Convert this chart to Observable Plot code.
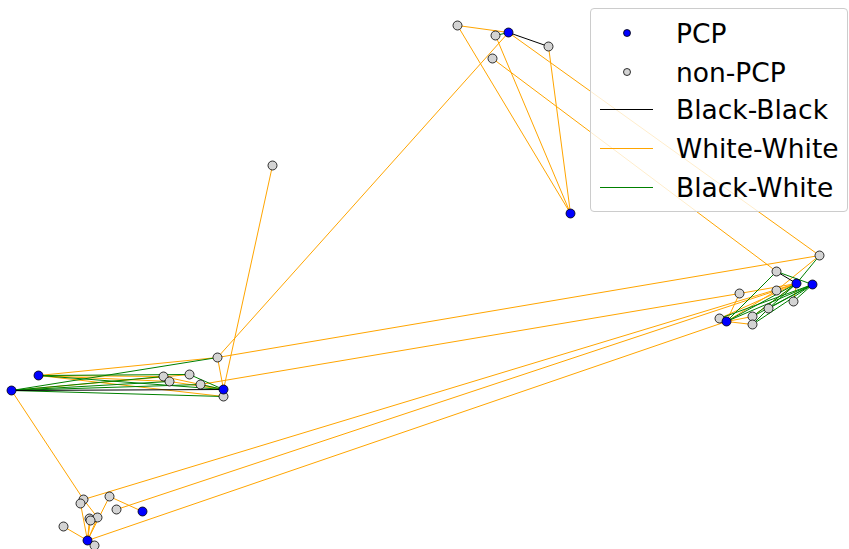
<!DOCTYPE html>
<html>
<head>
<meta charset="utf-8">
<script src="https://cdn.jsdelivr.net/npm/d3@7"></script>
<script src="https://cdn.jsdelivr.net/npm/@observablehq/plot@0.6"></script>
<style>
  html, body { margin: 0; padding: 0; background: #fff; }
  #wrap { position: relative; width: 849px; height: 549px; }
  #legend {
    position: absolute; left: 590px; top: 8px; width: 256px; height: 202px;
    background: rgba(255,255,255,0.8); border: 1.5px solid #cccccc; border-radius: 4px;
    font-family: "DejaVu Sans", sans-serif; font-size: 26px; color: #000;
  }
  #legend svg { position: absolute; left: 0; top: 0; }
</style>
</head>
<body>
<div id="wrap"></div>
<script>
// ---- node layout (layout units) ----
const nodeIds = ["L1","L2","L3","L4","L5","L6","L7","L8","L9","L10",
                 "T1","T2","T3","T4","T5","T6",
                 "R1","R2","R3","R4","R5","R6","R7","R8","R9","R10","R11","R12",
                 "B1","B2","B3","B4","B5","B6","B7","B8","B9","B10","B11"];
const nodeX = [11,38,217,163,169,189,200,223,223,272,
               457,508,495,548,492,570,
               819,776,796,812,739,776,793,768,719,726,752,752,
               83,80,109,116,142,89,97,90,63,87,94];
const nodeY = [390,375,357,376,381,374,384,389,396,165,
               25,32,35,46,58,213,
               255,271,283,284,293,290,301,308,318,321,316,324,
               499,503,496,509,511,518,517,520,526,540,545];
const nodePCP = ["L1","L2","L8","T2","T6","R3","R4","R10","B5","B10"];

// ---- edges by type ----
const blackBlack = [["T2","T4"],["R2","R3"],["L1","L8"]];
const whiteWhite = [["L1","B1"],["L2","L3"],["L2","L4"],["L2","L5"],["L2","L9"],["L1","L6"],
  ["L3","L8"],["L4","L8"],["L5","L8"],["L8","L10"],["L3","T2"],["L3","R1"],["L7","R5"],
  ["T1","T2"],["T1","T6"],["T3","T6"],["T4","T6"],["T2","R1"],["T5","R2"],
  ["B1","R3"],["B4","R6"],["B10","R10"],["B1","B7"],["B2","B10"],["B3","B5"],["B3","B10"],
  ["B9","B10"],["B6","B10"],["B7","B10"],["B8","B10"],
  ["R1","R6"],["R5","R10"],["R5","R3"],["R6","R3"],["R6","R10"],["R7","R3"],
  ["R10","R11"],["R10","R12"],["R9","R3"],["R11","R3"]];
const blackWhite = [["L1","L3"],["L1","L4"],["L1","L5"],["L1","L7"],["L1","L9"],["L2","L8"],
  ["L2","L6"],["L6","L8"],["L7","L8"],["T2","T3"],
  ["R1","R3"],["R2","R4"],["R2","R10"],["R3","R10"],["R4","R10"],["R4","R9"],["R3","R8"],
  ["R4","R11"],["R4","R12"],["R4","R7"],["R8","R12"],["R4","R8"],["R3","R11"]];

const edgeTypes = ["Black-Black","White-White","Black-White"];
const edgeColors = ["black","orange","green"];

// ---- build tables ----
const pos = new Map(nodeIds.map((id, i) => [id, {x: nodeX[i], y: nodeY[i]}]));
const nodes = nodeIds.map((id, i) => ({id, x: nodeX[i], y: nodeY[i], pcp: nodePCP.includes(id)}));
const edges = [];
[[whiteWhite, "White-White"], [blackWhite, "Black-White"], [blackBlack, "Black-Black"]].forEach(([list, type]) => {
  list.forEach(([a, b]) => edges.push({
    x1: pos.get(a).x, y1: pos.get(a).y, x2: pos.get(b).x, y2: pos.get(b).y, type
  }));
});

const chart = Plot.plot({
  width: 849, height: 549,
  marginTop: 0, marginRight: 0, marginBottom: 0, marginLeft: 0,
  x: {domain: [0, 849], range: [0, 849], axis: null},
  y: {domain: [0, 549], range: [0, 549], axis: null},
  color: {domain: edgeTypes, range: edgeColors},
  style: {background: "white"},
  marks: [
    Plot.link(edges, {x1: "x1", y1: "y1", x2: "x2", y2: "y2", stroke: "type", strokeWidth: 1}),
    Plot.dot(nodes.filter(d => !d.pcp), {x: "x", y: "y", r: 4.5, fill: "#d3d3d3", stroke: "black", strokeWidth: 0.8}),
    Plot.dot(nodes.filter(d => d.pcp), {x: "x", y: "y", r: 4.5, fill: "blue", stroke: "black", strokeWidth: 0.8})
  ]
});
const wrap = document.getElementById("wrap");
wrap.appendChild(chart);

// ---- legend ----
const legendItems = [
  {label: "PCP", kind: "dot", color: "blue"},
  {label: "non-PCP", kind: "dot", color: "#d3d3d3"},
  {label: "Black-Black", kind: "line", color: "black"},
  {label: "White-White", kind: "line", color: "orange"},
  {label: "Black-White", kind: "line", color: "green"}
];
const rowY = [24, 63, 100, 139, 178];
const lg = document.createElement("div");
lg.id = "legend";
const ns = "http://www.w3.org/2000/svg";
const svg = document.createElementNS(ns, "svg");
svg.setAttribute("width", 256); svg.setAttribute("height", 202);
legendItems.forEach((it, i) => {
  const y = rowY[i];
  if (it.kind === "dot") {
    const c = document.createElementNS(ns, "circle");
    c.setAttribute("cx", 36); c.setAttribute("cy", y); c.setAttribute("r", 3.5);
    c.setAttribute("fill", it.color); c.setAttribute("stroke", "black"); c.setAttribute("stroke-width", 0.8);
    svg.appendChild(c);
  } else {
    const l = document.createElementNS(ns, "line");
    l.setAttribute("x1", 9); l.setAttribute("x2", 62); l.setAttribute("y1", y + 0.5); l.setAttribute("y2", y + 0.5);
    l.setAttribute("stroke", it.color); l.setAttribute("stroke-width", 1);
    svg.appendChild(l);
  }
  const t = document.createElementNS(ns, "text");
  t.setAttribute("x", 85); t.setAttribute("y", y);
  t.setAttribute("dominant-baseline", "central");
  t.setAttribute("font-family", "DejaVu Sans, sans-serif");
  t.setAttribute("font-size", 26.5);
  t.textContent = it.label;
  svg.appendChild(t);
});
lg.appendChild(svg);
wrap.appendChild(lg);
</script>
</body>
</html>
